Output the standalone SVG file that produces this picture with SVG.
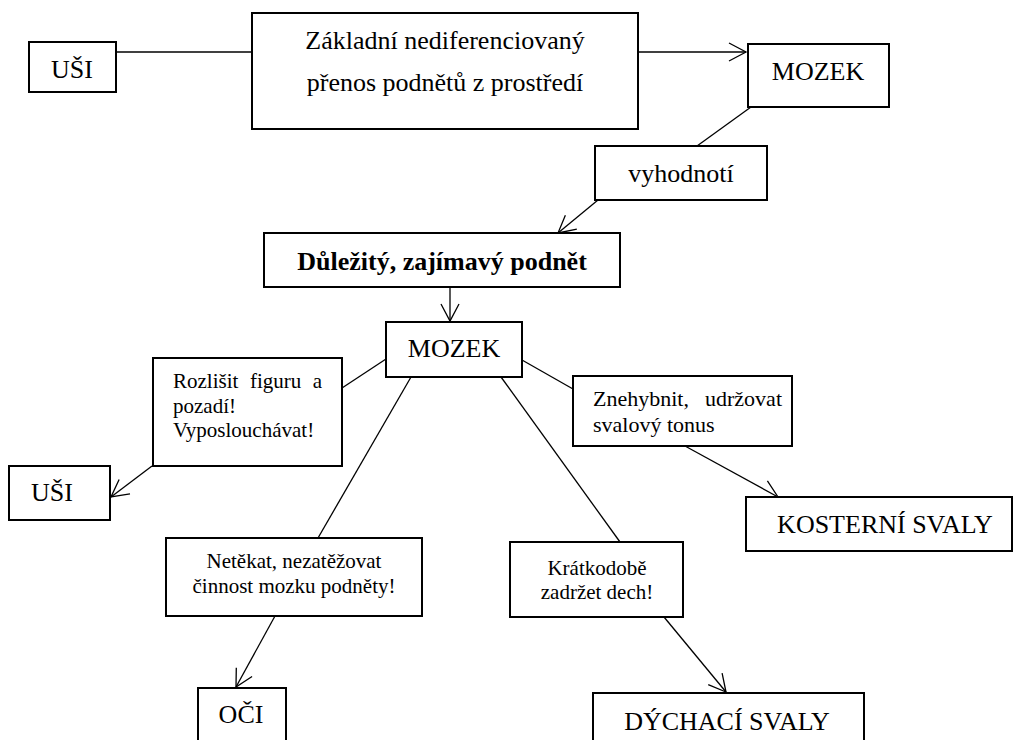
<svg xmlns="http://www.w3.org/2000/svg" width="1014" height="740" viewBox="0 0 1014 740">
<style>
.box{fill:#fff;stroke:#000;stroke-width:2}
.ln{fill:none;stroke:#000;stroke-width:1.3}
.big{font-size:26px}
.sm{font-size:21px}
.md{font-size:22px}
.b{font-weight:bold}
</style>
<defs>
<marker id="arr" markerUnits="userSpaceOnUse" markerWidth="24" markerHeight="24" viewBox="-20 -12 24 24" refX="0" refY="0" orient="auto">
<path d="M-17,-9 L0,0 L-17,9" fill="none" stroke="#000" stroke-width="1.3"/>
</marker>
</defs>
<rect width="1014" height="740" fill="#fff"/>
<g id="connectors">
<line class="ln" x1="116" y1="52" x2="252" y2="52"/>
<line class="ln" x1="638" y1="52" x2="746" y2="52" marker-end="url(#arr)"/>
<line class="ln" x1="751" y1="107" x2="697" y2="146"/>
<line class="ln" x1="598" y1="200" x2="558" y2="233" marker-end="url(#arr)"/>
<line class="ln" x1="450" y1="288" x2="450" y2="321" marker-end="url(#arr)"/>
<line class="ln" x1="386" y1="359" x2="342" y2="388"/>
<line class="ln" x1="152" y1="466" x2="111" y2="497" marker-end="url(#arr)"/>
<line class="ln" x1="411" y1="377" x2="318" y2="538"/>
<line class="ln" x1="275" y1="616" x2="236" y2="687" marker-end="url(#arr)"/>
<line class="ln" x1="522" y1="360" x2="573" y2="389"/>
<line class="ln" x1="685" y1="446" x2="778" y2="497" marker-end="url(#arr)"/>
<line class="ln" x1="501" y1="377" x2="620" y2="542"/>
<line class="ln" x1="664" y1="617" x2="726" y2="692" marker-end="url(#arr)"/>
</g>
<g id="nodes" font-family="Liberation Serif, Times New Roman, serif" fill="#000">
<g id="usi-top">
<rect class="box" x="29" y="42" width="87" height="50"/>
<text class="big" x="72" y="78" text-anchor="middle">UŠI</text>
</g>
<g id="zakladni">
<rect class="box" x="252" y="13" width="386" height="116"/>
<text class="big" x="445" y="49" text-anchor="middle">Základní nediferenciovaný</text>
<text class="big" x="445" y="91" text-anchor="middle">přenos podnětů z prostředí</text>
</g>
<g id="mozek-top">
<rect class="box" x="748" y="44" width="141" height="63"/>
<text class="big" x="818" y="80" text-anchor="middle">MOZEK</text>
</g>
<g id="vyhodnoti">
<rect class="box" x="595" y="146" width="172" height="54"/>
<text class="big" x="681" y="182" text-anchor="middle">vyhodnotí</text>
</g>
<g id="dulezity">
<rect class="box" x="264" y="233" width="356" height="54"/>
<text class="big b" x="442" y="270" text-anchor="middle">Důležitý, zajímavý podnět</text>
</g>
<g id="mozek-mid">
<rect class="box" x="386" y="322" width="136" height="55"/>
<text class="big" x="454" y="357" text-anchor="middle">MOZEK</text>
</g>
<g id="rozlisit">
<rect class="box" x="153" y="358" width="189" height="108"/>
<text class="sm" y="388"><tspan x="173">Rozlišit</tspan><tspan x="250">figuru</tspan><tspan x="322" text-anchor="end">a</tspan></text>
<text class="sm" x="173" y="413">pozadí!</text>
<text class="sm" x="173" y="437">Vyposlouchávat!</text>
</g>
<g id="usi-bottom">
<rect class="box" x="9" y="466" width="101" height="54"/>
<text class="big" x="31" y="501">UŠI</text>
</g>
<g id="znehybnit">
<rect class="box" x="573" y="376" width="219" height="70"/>
<text class="md" y="406"><tspan x="593">Znehybnit,</tspan><tspan x="782" text-anchor="end">udržovat</tspan></text>
<text class="md" x="593" y="432">svalový tonus</text>
</g>
<g id="kosterni">
<rect class="box" x="746" y="497" width="266" height="54"/>
<text class="big" x="885" y="533" text-anchor="middle">KOSTERNÍ SVALY</text>
</g>
<g id="netekat">
<rect class="box" x="166" y="538" width="256" height="78"/>
<text class="sm" x="294" y="568" text-anchor="middle">Netěkat, nezatěžovat</text>
<text class="sm" x="294" y="593" text-anchor="middle">činnost mozku podněty!</text>
</g>
<g id="kratkodobe">
<rect class="box" x="510" y="542" width="173" height="75"/>
<text class="sm" x="597" y="575" text-anchor="middle">Krátkodobě</text>
<text class="sm" x="597" y="599" text-anchor="middle">zadržet dech!</text>
</g>
<g id="oci">
<rect class="box" x="198" y="688" width="88" height="60"/>
<text class="big" x="241" y="723" text-anchor="middle">OČI</text>
</g>
<g id="dychaci">
<rect class="box" x="593" y="693" width="271" height="60"/>
<text class="big" x="727" y="730" text-anchor="middle">DÝCHACÍ SVALY</text>
</g>
</g>
</svg>
